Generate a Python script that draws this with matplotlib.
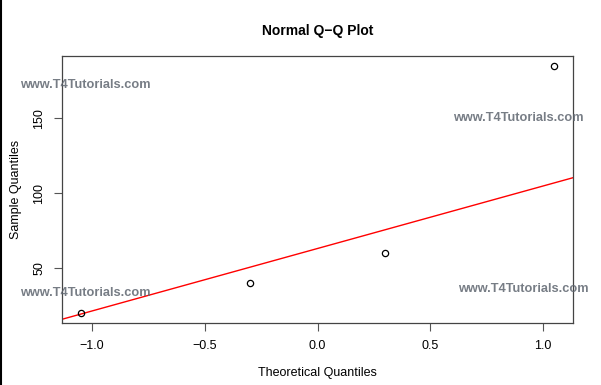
import numpy as np
import matplotlib
matplotlib.use("Agg")
import matplotlib.pyplot as plt
from statistics import NormalDist

# valores de la muestra
muestra = [20, 40, 60, 185]
x_ticks = [-1.0, -0.5, 0.0, 0.5, 1.0]
x_tick_labels = ["\u22121.0", "\u22120.5", "0.0", "0.5", "1.0"]
y_ticks = [50, 100, 150]
marca = "www.T4Tutorials.com"

plt.rcParams['font.family'] = ['Liberation Sans', 'DejaVu Sans']

# cuantiles teóricos como qqnorm de R: ppoints(n) con a = 3/8
n = len(muestra)
i = np.arange(1, n + 1)
p = (i - 3 / 8) / (n + 1 - 2 * 3 / 8)
teoricos = np.array([NormalDist().inv_cdf(v) for v in p])
datos = np.sort(np.array(muestra, dtype=float))

# qqline: recta por los cuartiles
q_datos = np.quantile(datos, [0.25, 0.75])
q_teo = np.array([NormalDist().inv_cdf(0.25), NormalDist().inv_cdf(0.75)])
pendiente = (q_datos[1] - q_datos[0]) / (q_teo[1] - q_teo[0])
intercepto = q_datos[0] - pendiente * q_teo[0]

fig = plt.figure(figsize=(6.01, 3.85), dpi=100)
ax = fig.add_axes([62 / 601, 1 - 323 / 385, (573 - 62) / 601, (323 - 56) / 385])

ax.plot(teoricos, datos, 'o', mfc='none', mec='black', ms=4.5, mew=0.9, zorder=3)

xr = teoricos.max() - teoricos.min()
yr = datos.max() - datos.min()
ax.set_xlim(teoricos.min() - 0.04 * xr, teoricos.max() + 0.04 * xr)
ax.set_ylim(datos.min() - 0.04 * yr, datos.max() + 0.04 * yr)

xs = np.array(ax.get_xlim())
ax.plot(xs, intercepto + pendiente * xs, color='red', lw=1, zorder=2)

ax.set_xticks(x_ticks)
ax.set_xticklabels(x_tick_labels)
ax.set_yticks(y_ticks)
ax.set_yticklabels([str(v) for v in y_ticks], rotation=90, va='center')
ax.tick_params(direction='out', length=6, width=0.8, labelsize=9, pad=6, colors='#555555', labelcolor='black')
for s in ax.spines.values():
    s.set_color('#444444')
    s.set_linewidth(0.9)
    s.set_zorder(5)

ax.set_title("Normal Q\u2212Q Plot", fontsize=10, fontweight='bold', pad=15)
ax.set_xlabel("Theoretical Quantiles", fontsize=9, labelpad=11)
ax.set_ylabel("Sample Quantiles", fontsize=9, labelpad=8)

# marcas de agua
for px, py in [(20, 85), (453, 118), (20, 293), (458, 289)]:
    fig.text(px / 601, 1 - py / 385, marca, fontsize=9.2, fontweight='bold',
             color='#5f6670', alpha=0.85, ha='left', va='center', zorder=1)

# borde negro a la izquierda
fig.add_artist(plt.Line2D([0.5 / 601, 0.5 / 601], [0, 1], color='black', lw=1.5))

fig.savefig("out.png", dpi=100)
